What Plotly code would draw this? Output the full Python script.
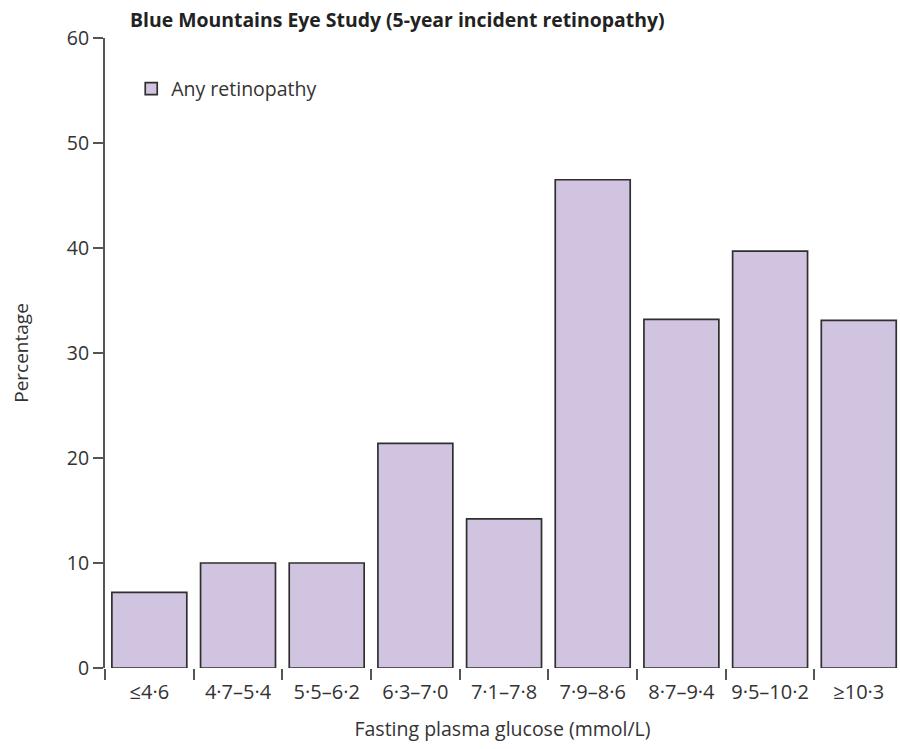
import plotly.graph_objects as go

# Fasting plasma glucose bands (mmol/L) and 5-year incident retinopathy (%)
glucose_bands = ["≤4·6", "4·7–5·4", "5·5–6·2", "6·3–7·0", "7·1–7·8",
                 "7·9–8·6", "8·7–9·4", "9·5–10·2", "≥10·3"]
any_retinopathy = [7.2, 10.0, 10.0, 21.4, 14.2, 46.5, 33.2, 39.7, 33.1]
y_ticks = [0, 10, 20, 30, 40, 50, 60]

FONT = "Open Sans"
TEXT = "#333333"
AXIS = "#555555"

fig = go.Figure()
fig.add_trace(go.Bar(
    x=glucose_bands,
    y=any_retinopathy,
    name="Any retinopathy",
    marker=dict(color="#d1c4e1", line=dict(color="#2f2f2f", width=1.7)),
))

fig.update_layout(
    width=900, height=749,
    margin=dict(l=105, r=0, t=38, b=81),
    paper_bgcolor="white", plot_bgcolor="white",
    font=dict(family=FONT, size=19, color=TEXT),
    bargap=0.155,
    title=dict(
        text="<b>Blue Mountains Eye Study (5-year incident retinopathy)</b>",
        x=130 / 900, xanchor="left", y=1 - 20 / 749, yanchor="middle",
        font=dict(family=FONT, size=19.4, color="#222222"),
    ),
    showlegend=True,
    legend=dict(
        x=0.033, xanchor="left", y=0.95, yanchor="top",
        bgcolor="rgba(0,0,0,0)",
        font=dict(family=FONT, size=19.5, color=TEXT),
    ),
    xaxis=dict(
        type="category",
        range=[-0.5, 8.465],
        tickson="boundaries",
        ticks="outside", ticklen=11, tickwidth=1.6, tickcolor=AXIS,
        ticklabelstandoff=10,
        showline=False, showgrid=False, zeroline=False,
        tickfont=dict(family=FONT, size=20, color=TEXT),
        title=dict(text="Fasting plasma glucose (mmol/L)",
                   font=dict(family=FONT, size=19.5, color=TEXT), standoff=18),
    ),
    yaxis=dict(
        range=[0, 60],
        tickvals=y_ticks,
        ticks="outside", ticklen=10, tickwidth=1.6, tickcolor=AXIS,
        showline=True, linecolor=AXIS, linewidth=2,
        showgrid=False, zeroline=False,
        tickfont=dict(family=FONT, size=19.5, color=TEXT),
        title=dict(text="Percentage",
                   font=dict(family=FONT, size=19, color=TEXT), standoff=33),
    ),
)

fig.write_html("out.html")
